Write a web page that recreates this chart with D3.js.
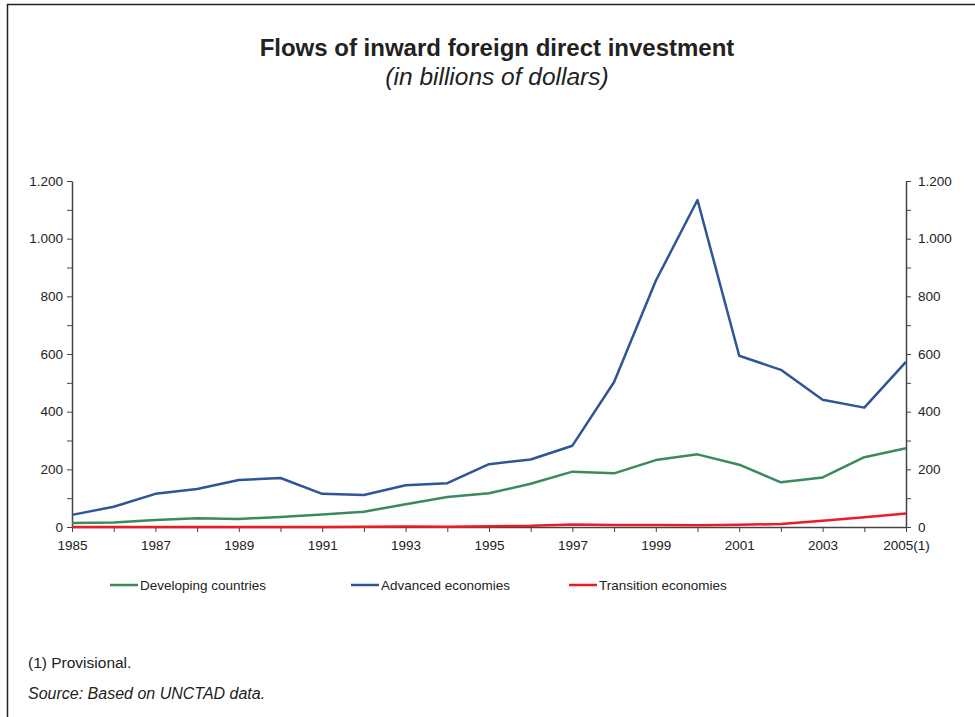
<!DOCTYPE html>
<html>
<head>
<meta charset="utf-8">
<script src="https://cdn.jsdelivr.net/npm/d3@7"></script>
<style>
  html, body { margin: 0; padding: 0; background: #fff; }
  svg { display: block; font-family: "Liberation Sans", Arial, sans-serif; }
</style>
</head>
<body>
<svg id="chart" width="975" height="717"></svg>
<script>
// Inward FDI flows, billions of dollars
const years = [1985,1986,1987,1988,1989,1990,1991,1992,1993,1994,1995,1996,1997,1998,1999,2000,2001,2002,2003,2004,2005];
const developing = [14,16,24,30,28,35,43,53,79,104,117,150,192,186,232,252,216,155,172,242,273];
const advanced   = [42,70,115,132,163,170,115,111,145,152,218,234,282,503,854,1134,594,545,441,414,573];
const transition = [0,0,0,0,0,0,0,1,2,1,3,4,9,7,7,6,8,10,22,34,47];
const yTicks = [0,200,400,600,800,1000,1200];
const yMinor = [100,300,500,700,900,1100];
const xLabels = [1985,1987,1989,1991,1993,1995,1997,1999,2001,2003,2005];

const series = [
  { name: "Developing countries", values: developing, color: "#3b8a5f" },
  { name: "Advanced economies",   values: advanced,   color: "#2f5597" },
  { name: "Transition economies", values: transition, color: "#ec1c24" }
];

const svg = d3.select("#chart");
const plotLeft = 72, plotRight = 906, plotTop = 181, plotBottom = 527;

// frame
svg.append("line").attr("x1", 7.5).attr("x2", 7.5).attr("y1", 4).attr("y2", 717)
  .attr("stroke", "#222").attr("stroke-width", 1.5);
svg.append("line").attr("x1", 7).attr("x2", 975).attr("y1", 4.5).attr("y2", 4.5)
  .attr("stroke", "#222").attr("stroke-width", 1.5);

// titles
svg.append("text").attr("x", 497).attr("y", 56).attr("text-anchor", "middle")
  .attr("font-size", 24).attr("font-weight", "bold").attr("fill", "#222")
  .text("Flows of inward foreign direct investment");
svg.append("text").attr("x", 497).attr("y", 85).attr("text-anchor", "middle")
  .attr("font-size", 24.5).attr("font-style", "italic").attr("fill", "#222")
  .text("(in billions of dollars)");

const x = d3.scaleLinear().domain([1985, 2005]).range([plotLeft, plotRight]);
const y = d3.scaleLinear().domain([0, 1200]).range([plotBottom, plotTop]);

const fmt = d => d3.format(",")(d).replace(/,/g, ".");
const axisColor = "#444";

function styleAxis(g) {
  g.select(".domain").attr("stroke", axisColor).attr("stroke-width", 1.5);
  g.selectAll(".tick line").attr("stroke", axisColor).attr("stroke-width", 1);
  g.selectAll(".tick text").attr("fill", "#222").attr("font-size", 13.5)
    .attr("font-family", "\"Liberation Sans\", Arial, sans-serif");
}

// left axis
const gl = svg.append("g").attr("transform", `translate(${plotLeft},0)`)
  .call(d3.axisLeft(y).tickValues(yTicks).tickFormat(fmt).tickSize(5).tickPadding(4).tickSizeOuter(0));
styleAxis(gl);
svg.append("g").attr("transform", `translate(${plotLeft},0)`)
  .call(d3.axisLeft(y).tickValues(yMinor).tickFormat("").tickSize(5).tickSizeOuter(0))
  .call(g => { g.select(".domain").remove(); g.selectAll(".tick line").attr("stroke", axisColor); });

// right axis
const gr = svg.append("g").attr("transform", `translate(${plotRight},0)`)
  .call(d3.axisRight(y).tickValues(yTicks).tickFormat(fmt).tickSize(5).tickPadding(7).tickSizeOuter(0));
styleAxis(gr);
svg.append("g").attr("transform", `translate(${plotRight},0)`)
  .call(d3.axisRight(y).tickValues(yMinor).tickFormat("").tickSize(5).tickSizeOuter(0))
  .call(g => { g.select(".domain").remove(); g.selectAll(".tick line").attr("stroke", axisColor); });

// bottom axis
const gb = svg.append("g").attr("transform", `translate(0,${plotBottom})`)
  .call(d3.axisBottom(x).tickValues(years).tickSize(5).tickPadding(8).tickSizeOuter(0)
    .tickFormat(d => xLabels.includes(d) ? (d === 2005 ? "2005(1)" : String(d)) : ""));
styleAxis(gb);

// lines
const line = d3.line().x((d, i) => x(years[i])).y(d => y(d));
svg.append("g").selectAll("path").data(series).join("path")
  .attr("d", s => line(s.values))
  .attr("fill", "none")
  .attr("stroke", s => s.color)
  .attr("stroke-width", 2.5)
  .attr("stroke-linejoin", "round");

// legend
const legendX = [110, 351, 569];
const lg = svg.append("g").selectAll("g").data(series).join("g")
  .attr("transform", (s, i) => `translate(${legendX[i]},585)`);
lg.append("line").attr("x1", 0).attr("x2", 28).attr("y1", 0).attr("y2", 0)
  .attr("stroke", s => s.color).attr("stroke-width", 2.5);
lg.append("text").attr("x", 30).attr("y", 5).attr("font-size", 13.5).attr("fill", "#222")
  .text(s => s.name);

// notes
svg.append("text").attr("x", 28).attr("y", 668).attr("font-size", 15.5).attr("fill", "#222")
  .text("(1) Provisional.");
svg.append("text").attr("x", 28).attr("y", 699).attr("font-size", 16).attr("font-style", "italic").attr("fill", "#222")
  .text("Source: Based on UNCTAD data.");
</script>
</body>
</html>
